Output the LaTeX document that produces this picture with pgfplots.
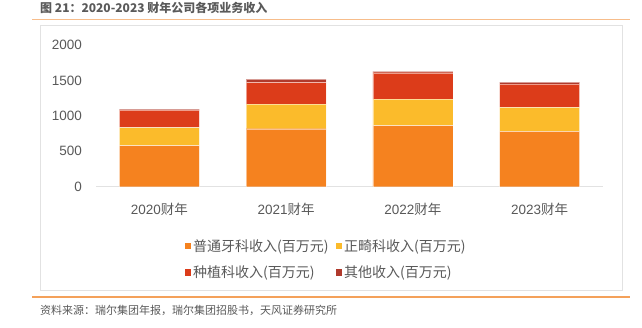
\documentclass[border=0pt]{standalone}
\usepackage{pgfplots}
\pgfplotsset{compat=1.18}
\usepackage{fontspec}
\setmainfont{Liberation Sans}
\newfontfamily\cjk{Noto Sans CJK SC}
\definecolor{cA}{HTML}{F5821F}
\definecolor{cB}{HTML}{FBBB2B}
\definecolor{cC}{HTML}{DC3C1A}
\definecolor{cD}{HTML}{B03A2C}
\definecolor{txt}{HTML}{595959}
\definecolor{ttl}{HTML}{5A5A5A}
\definecolor{ln}{HTML}{F4A15A}
\definecolor{frm}{HTML}{E2E2E2}
\begin{document}
\begin{tikzpicture}
\path[use as bounding box] (0pt,0pt) rectangle (642pt,327pt);
\node[anchor=west, inner sep=0pt, text=ttl, font=\cjk\bfseries\fontsize{12}{14}\selectfont] at (40pt,319.5pt) {图 21：2020-2023 财年公司各项业务收入};
\draw[ln!70, line width=1.2pt] (32pt,307.3pt) -- (630pt,307.3pt);
\draw[frm, line width=1pt] (40pt,37pt) rectangle (622pt,301pt);
\draw[ln, line width=1.2pt] (32pt,30pt) -- (630pt,30pt);
\node[anchor=west, inner sep=0pt, text=txt, font=\cjk\fontsize{11}{13}\selectfont] at (40pt,17pt) {资料来源：瑞尔集团年报，瑞尔集团招股书，天风证券研究所};
\begin{axis}[
  at={(96pt,140.3pt)}, anchor=south west,
  scale only axis, width=507pt, height=141.7pt,
  xmin=-0.5, xmax=3.5, ymin=0, ymax=2000,
  ybar stacked, bar width=80pt,
  xtick={0,1,2,3},
  xticklabels={2020{\cjk 财年},2021{\cjk 财年},2022{\cjk 财年},2023{\cjk 财年}},
  ytick={0,500,1000,1500,2000},
  /pgf/number format/assume math mode=true,
  /pgf/number format/1000 sep={},
  tick label style={font=\fontsize{13.5}{15}\selectfont, text=txt},
  yticklabel style={inner sep=0pt, xshift=-14pt},
  xticklabel style={inner sep=0pt, yshift=-16pt},
  major tick length=0pt,
  axis x line*=bottom,
  axis y line*=left,
  y axis line style={draw=none},
  x axis line style={draw=frm, line width=1pt, -},
  every axis plot/.append style={draw=white, draw opacity=0.5, line width=0.4pt},
  legend columns=2,
  legend cell align=left,
  legend image code/.code={\fill[#1, draw=none] (0pt,-3.2pt) rectangle (6.5pt,3.3pt);},
  legend style={draw=none, fill=none, at={(0.454,-0.513)}, anchor=center,
    font=\cjk\fontsize{14}{16}\selectfont, text=txt,
    /tikz/row sep=9pt,
    /tikz/every even column/.append style={column sep=5pt},
    nodes={inner xsep=2pt, inner ysep=2pt}},
]
\addplot[fill=cA] coordinates {(0,579) (1,818) (2,861) (3,782)};
\addplot[fill=cB] coordinates {(0,254) (1,349) (2,376) (3,338)};
\addplot[fill=cC] coordinates {(0,249) (1,306) (2,372) (3,329)};
\addplot[fill=cD] coordinates {(0,14) (1,47) (2,19) (3,28)};
\legend{普通牙科收入(百万元),正畸科收入(百万元),种植科收入(百万元),其他收入(百万元)}
\end{axis}
\end{tikzpicture}
\end{document}
